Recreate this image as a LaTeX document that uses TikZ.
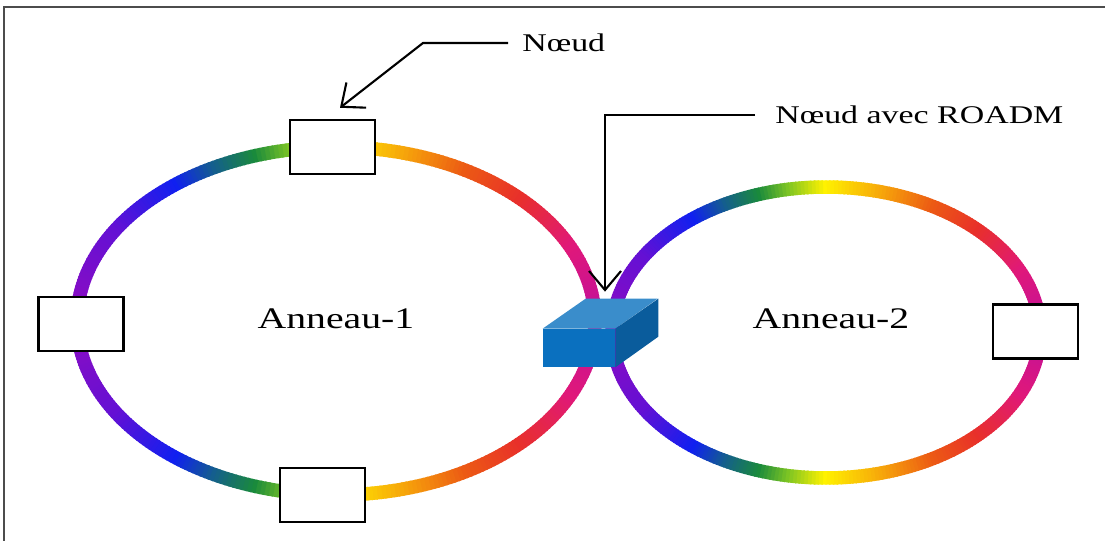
\documentclass[tikz,border=0pt]{standalone}
\usepackage{fontspec}
\setmainfont{Liberation Serif}
\usetikzlibrary{arrows.meta,positioning,calc}

% colour stops of the rainbow fibre, from the right end (0) to the left end (180)
\definecolor{hue0}{HTML}{C0109C}
\definecolor{hue1}{HTML}{E0187A}
\definecolor{hue2}{HTML}{E8302A}
\definecolor{hue3}{HTML}{EC5A14}
\definecolor{hue4}{HTML}{F7A80A}
\definecolor{hue5}{HTML}{FFF200}
\definecolor{hue6}{HTML}{7CC424}
\definecolor{hue7}{HTML}{1A8A3C}
\definecolor{hue8}{HTML}{145E8E}
\definecolor{hue9}{HTML}{1020F0}
\definecolor{hue10}{HTML}{6410D4}
\definecolor{hue11}{HTML}{900CC0}
\definecolor{roadmfront}{HTML}{0A70BF}
\definecolor{roadmtop}{HTML}{3A8DCB}
\definecolor{roadmside}{HTML}{0A5C9C}

\begin{document}
\begin{tikzpicture}[
  ringseg/.style={line width=0.27cm, draw=ringc},
  station/.style={rectangle, draw, line width=1.4pt, fill=white, minimum width=1.7cm, minimum height=1.08cm, inner sep=0pt},
  cubeface/.style={draw=none},
  ringname/.style={font=\fontsize{17}{20}\selectfont},
  callabel/.style={font=\fontsize{14.5}{17}\selectfont, inner sep=0pt, anchor=west},
  callout/.style={draw, line width=1.2pt, -{Straight Barb[length=3.8mm, width=6.4mm]}}
]
  \useasboundingbox (0,0) rectangle (22.1,10.82);
  \draw[line width=1.2pt, gray!60!black] (0.08,0) -- (0.08,10.68) -- (22.1,10.68);

  % the two rings, coloured segment by segment (mirrored below the axis)
  \foreach \cx/\cy/\rx/\ry in {6.72/4.40/5.18/3.48, 16.52/4.17/4.28/2.91}{
    \foreach \pa/\pb/\ca/\cb in {0/25/hue0/hue1, 25/45/hue1/hue2, 45/60/hue2/hue3,
        60/75/hue3/hue4, 75/90/hue4/hue5, 90/100/hue5/hue6, 100/108/hue6/hue7,
        108/118/hue7/hue8, 118/128/hue8/hue9, 128/148/hue9/hue10, 148/180/hue10/hue11}{
      \pgfmathtruncatemacro{\pe}{\pb-1}
      \foreach \s in {\pa,...,\pe}{
        \pgfmathtruncatemacro{\pc}{100*(\s-\pa)/(\pb-\pa)}
        \colorlet{ringc}{\cb!\pc!\ca}
        \draw[ringseg] (\cx,\cy) ++(\s-0.2:\rx cm and \ry cm)
          arc[start angle=\s-0.2, delta angle=1.4, x radius=\rx cm, y radius=\ry cm];
        \draw[ringseg] (\cx,\cy) ++(-\s-1.2:\rx cm and \ry cm)
          arc[start angle=-\s-1.2, delta angle=1.4, x radius=\rx cm, y radius=\ry cm];
      }
    }
  }

  % plain nodes on the rings
  \node[station] (Ntop) at (6.65,7.88) {};
  \node[station] (Nleft) at (1.62,4.34) {};
  \node[station] (Nbot) at (6.45,0.92) {};
  \node[station] (Nright) at (20.71,4.19) {};

  % ROADM drawn as a small box in 3D
  \node[cubeface, fill=roadmfront, minimum width=1.44cm, minimum height=0.76cm, inner sep=0pt] (R) at (11.58,3.86) {};
  \fill[roadmtop] (R.north west) -- ++(0.86,0.6) -- ++(1.44,0) -- (R.north east) -- cycle;
  \fill[roadmside] (R.north east) -- ++(0.86,0.6) -- ++(0,-0.76) -- (R.south east) -- cycle;

  \node[ringname] (A1) at (6.72,4.44) {\scalebox{1.33}[1]{Anneau-1}};
  \node[ringname] (A2) at (16.62,4.44) {\scalebox{1.33}[1]{Anneau-2}};

  % callouts
  \node[callabel] (Lnoeud) at (10.44,9.96) {\scalebox{1.33}[1]{Nœud}};
  \node[callabel] (Lroadm) at (15.5,8.52) {\scalebox{1.33}[1]{Nœud avec ROADM}};
  \coordinate (kneeA) at (8.46,9.96);
  \coordinate (kneeB) at (12.10,8.52);

  \draw[callout] ([xshift=-0.28cm]Lnoeud.west) -- (kneeA) -- ([xshift=0.15cm,yshift=0.22cm]Ntop.north);
  \draw[callout] ([xshift=-0.4cm]Lroadm.west) -- (kneeB) -- ([xshift=0.52cm,yshift=0.74cm]R.north);
\end{tikzpicture}
\end{document}
